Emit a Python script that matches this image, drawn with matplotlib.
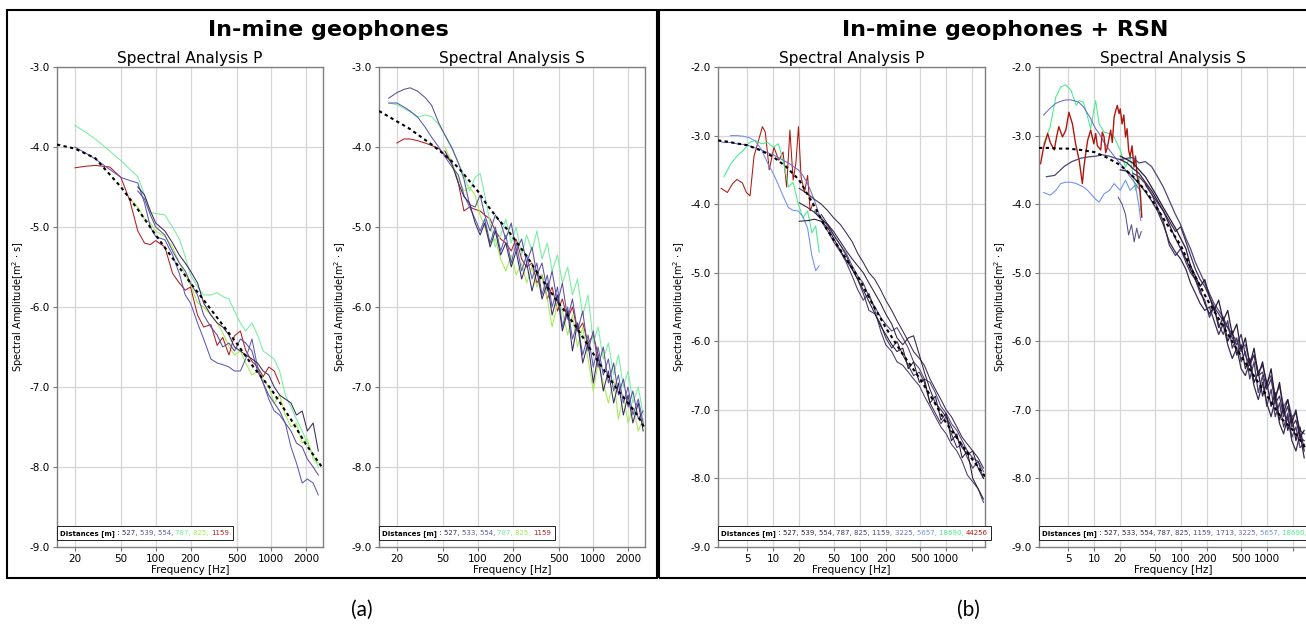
import numpy as np
import matplotlib
matplotlib.use('Agg')
import matplotlib.pyplot as plt
from matplotlib.ticker import NullLocator, FormatStrFormatter
from matplotlib.offsetbox import TextArea, HPacker, AnchoredOffsetbox
from matplotlib.patches import Rectangle

nan = np.nan

# ---------------- (a) In-mine geophones, P ----------------
A_P_FREQ = [20, 25, 30, 40, 50, 60, 70, 80, 90, 100, 120, 140, 160, 180, 200, 230, 260, 300, 340,
            380, 430, 480, 540, 600, 680, 760, 850, 950, 1060, 1180, 1320, 1480, 1650, 1850, 2050, 2300, 2550]
A_P_527 = [nan] * 6 + [-4.5, -4.6, -4.8, -4.95, -5.05, -5.2, -5.35, -5.45, -5.55, -5.7, -5.95, -6.1, -6.2,
                       -6.25, -6.35, -6.5, -6.55, -6.6, -6.65, -6.7, -6.8, -6.85, -7.0, -7.1, -7.15, -7.2,
                       -7.35, -7.3, -7.55, -7.45, -7.8]
A_P_539 = [nan] * 6 + [-4.55, -4.65, -4.85, -5.0, -5.1, -5.3, -5.45, -5.55, -5.7, -5.85, -6.1, -6.25, -6.35,
                       -6.5, -6.45, -6.55, -6.4, -6.45, -6.55, -6.8, -6.95, -7.1, -7.2, -7.3, -7.45, -7.55,
                       -7.7, -7.75, -7.9, -8.0, -8.1]
A_P_554 = [-4.0, -4.08, -4.15, -4.28, -4.38, -4.42, -4.45, -4.7, -5.0, -5.12, -5.16, -5.35, -5.58, -5.85,
           -5.95, -6.2, -6.4, -6.65, -6.7, -6.72, -6.75, -6.8, -6.8, -6.65, -6.4, -6.75, -6.95, -7.15,
           -7.3, -7.35, -7.45, -7.75, -7.95, -8.2, -8.15, -8.2, -8.35]
A_P_787 = [-3.73, -3.82, -3.9, -4.05, -4.17, -4.28, -4.37, -4.6, -4.82, -4.83, -4.85, -5.0, -5.15, -5.37,
           -5.6, -5.75, -5.85, -5.85, -5.82, -5.87, -5.9, -6.05, -6.2, -6.3, -6.2, -6.35, -6.55, -6.6,
           -6.65, -6.8, -7.1, -7.25, -7.4, -7.55, -7.7, -7.85, -8.0]
A_P_825 = [nan] * 5 + [-4.65, -4.75, -4.9, -4.95, -5.05, -5.12, -5.25, -5.45, -5.6, -5.72, -5.95, -6.0,
                       -6.1, -6.2, -6.32, -6.5, -6.6, -6.55, -6.7, -6.85, -6.8, -6.9, -7.0, -7.2, -7.1,
                       -7.35, -7.5, -7.45, -7.7, -7.65, -7.9, -7.95]
A_P_1159 = [-4.26, -4.24, -4.23, -4.25, -4.38, -4.68, -5.05, -5.2, -5.22, -5.17, -5.25, -5.58, -5.7, -5.79,
            -5.75, -6.1, -6.25, -6.22, -6.48, -6.38, -6.6, -6.36, -6.3, -6.54, -6.68, -6.75, -6.87,
            -6.75, -6.8, -6.96] + [nan] * 7
A_P_FIT_FREQ = [14, 20, 30, 50, 70, 100, 150, 200, 300, 500, 700, 1000, 1500, 2000, 2800]
A_P_FIT = [-3.97, -4.02, -4.14, -4.5, -4.78, -5.1, -5.45, -5.7, -6.03, -6.45, -6.75, -7.03, -7.42, -7.72, -8.02]

# ---------------- (a) In-mine geophones, S ----------------
A_S_FREQ = [17, 20, 23, 26, 30, 35, 40, 46, 52, 60, 68, 76, 85, 95, 105, 115, 128, 142, 158, 175, 195,
            215, 240, 265, 295, 325, 360, 400, 440, 490, 540, 600, 660, 730, 810, 900, 1000, 1100,
            1220, 1350, 1500, 1650, 1820, 2000, 2200, 2450, 2700]
A_S_533 = [-3.39, -3.32, -3.28, -3.26, -3.3, -3.38, -3.48, -3.7, -3.85, -4.02, -4.2, -4.4, -4.72, -4.75,
           -4.6, -4.85, -5.05, -4.85, -4.95, -5.15, -4.95, -5.3, -5.15, -5.45, -5.25, -5.6, -5.45, -5.8,
           -5.55, -5.95, -5.7, -6.15, -5.9, -6.3, -6.05, -6.55, -6.3, -6.75, -6.5, -6.95, -6.7, -7.1,
           -6.9, -7.25, -7.05, -7.4, -7.3]
A_S_554 = [-3.45, -3.45, -3.5, -3.55, -3.62, -3.75, -3.88, -4.0, -4.12, -4.25, -4.35, -4.6, -4.75, -4.9,
           -5.05, -4.9, -5.2, -5.0, -5.3, -5.1, -5.45, -5.2, -5.55, -5.35, -5.65, -5.45, -5.85, -5.6,
           -6.0, -5.75, -6.25, -6.0, -6.4, -6.2, -6.6, -6.35, -6.75, -6.5, -6.85, -6.65, -7.05, -6.85,
           -7.2, -7.0, -7.35, -7.15, -7.45]
A_S_787 = [-3.45, -3.47, -3.52, -3.56, -3.63, -3.6, -3.62, -3.72, -3.85, -4.0, -4.2, -4.35, -4.55, -4.38,
           -4.33, -4.6, -4.95, -5.25, -5.1, -4.9, -5.2, -5.0, -5.35, -5.1, -5.3, -5.05, -5.4, -5.2,
           -5.55, -5.35, -5.7, -5.5, -5.85, -5.65, -6.1, -5.85, -6.45, -6.25, -6.65, -6.45, -6.85,
           -6.6, -7.0, -6.8, -7.2, -7.0, -7.35]
A_S_825 = [nan] * 8 + [-4.0, -4.2, -4.4, -4.55, -4.5, -4.6, -4.85, -5.0, -5.2, -5.15, -5.4, -5.55, -5.35,
                       -5.6, -5.45, -5.7, -5.5, -5.75, -5.6, -5.9, -6.25, -5.95, -6.05, -6.35, -6.1,
                       -6.5, -6.25, -6.65, -7.05, -6.7, -6.95, -7.2, -6.9, -7.4, -7.1, -7.45, -7.25,
                       -7.55, -7.4]
A_S_527 = [nan] * 8 + [-4.05, -4.22, -4.45, -4.62, -4.7, -4.95, -5.1, -4.95, -5.25, -5.05, -5.35, -5.2,
                       -5.5, -5.3, -5.65, -5.45, -5.8, -5.55, -5.9, -5.7, -6.1, -5.85, -6.3, -6.05,
                       -6.55, -6.2, -6.7, -6.45, -6.95, -6.6, -7.05, -6.8, -7.2, -6.95, -7.35, -7.1,
                       -7.45, -7.2, -7.55]
A_S_1159 = [nan, -3.95, -3.9, -3.9, -3.92, -3.95, -3.98, -4.02, -4.1, -4.2, -4.45, -4.8, -4.75, -4.78,
            -4.8, -4.85, -4.9, -5.05, -5.15, -5.2, -5.3, -5.15, -5.4, -5.5, -5.45, -5.7, -5.6, -5.9,
            -5.75, -6.05, -5.9, -6.15, -6.0, -6.3, -6.2, -6.45, -6.35, -6.6] + [nan] * 9
A_S_FIT_FREQ = [14, 17, 20, 25, 30, 40, 50, 60, 70, 80, 100, 120, 150, 180, 220, 270, 330, 400, 500, 600,
                750, 900, 1100, 1350, 1650, 2000, 2400, 2800]
A_S_FIT = [-3.55, -3.62, -3.68, -3.76, -3.84, -3.97, -4.08, -4.18, -4.28, -4.38, -4.55, -4.72, -4.9, -5.03,
           -5.2, -5.38, -5.58, -5.75, -5.95, -6.1, -6.3, -6.48, -6.68, -6.87, -7.05, -7.2, -7.35, -7.52]

# ---------------- (b) In-mine geophones + RSN, P ----------------
B_P_LOW_FREQ = [2.3, 2.7, 3.2, 3.8, 4.5, 5.3, 6.2, 7.3, 8.6, 10, 11.5, 13, 15, 17, 19.5, 22, 25, 28, 31, 34]
B_P_3225 = [-3.08, -3.1, -3.1, -3.12, -3.13, -3.15, -3.18, -3.21, -3.25, -3.28, -3.32, -3.36, -3.4, -3.45,
            -3.5, -3.58, -3.7, -3.85, -4.0, -4.15]
B_P_5657 = [nan, nan, -3.0, -3.0, -3.01, -3.03, -3.08, -3.2, -3.4, -3.55, -3.72, -3.88, -4.05, -4.09, -4.1,
            -4.18, -4.35, -4.75, -4.97, -4.9]
B_P_18690 = [nan, -3.6, -3.42, -3.3, -3.22, -3.1, -3.07, -3.12, -3.1, -3.17, -3.12, -3.36, -3.75, -3.68,
             -4.0, -4.2, -4.1, -4.42, -4.32, -4.7]
B_P_RED_FREQ = [2.5, 2.95, 3.4, 3.8, 4.4, 4.9, 5.4, 6.0, 6.6, 7.5, 8.1, 9.0, 10.2, 11.6, 13.0, 14.3, 15.6,
                17.0, 18.3, 19.6, 21, 23, 25, 26.7, 28.6]
B_P_44256 = [-3.77, -3.83, -3.7, -3.64, -3.69, -3.83, -3.88, -3.3, -3.12, -2.87, -2.95, -3.5, -3.17, -3.36,
             -3.24, -3.75, -2.92, -3.65, -3.4, -2.87, -3.6, -3.83, -3.58, -4.1, -4.0]
B_P_FREQ = [20, 25, 30, 36, 43, 50, 60, 70, 82, 95, 110, 128, 150, 175, 200, 235, 270, 315, 365, 420, 490,
            560, 650, 750, 870, 1000, 1150, 1330, 1530, 1760, 2030, 2340, 2700]
B_P_527 = [-4.25, -4.24, -4.22, -4.25, -4.35, -4.5, -4.68, -4.82, -4.95, -5.1, -5.25, -5.42, -5.6, -5.78,
           -5.9, -6.05, -6.15, -6.1, -6.4, -6.3, -6.6, -6.55, -6.9, -6.8, -7.15, -7.05, -7.45, -7.35,
           -7.7, -7.6, -8.0, -8.15, -8.3]
B_P_539 = [-3.98, -4.05, -4.12, -4.22, -4.3, -4.4, -4.55, -4.68, -4.8, -4.9, -5.0, -5.15, -5.3, -5.45,
           -5.6, -5.75, -5.95, -6.05, -5.95, -5.92, -6.2, -6.45, -6.7, -6.9, -7.0, -7.1, -7.25, -7.4,
           -7.55, -7.65, -7.6, -7.85, -8.0]
B_P_554 = [-3.77, -3.85, -3.93, -4.0, -4.1, -4.2, -4.3, -4.42, -4.55, -4.72, -4.85, -5.0, -5.1, -5.25,
           -5.4, -5.55, -5.7, -5.85, -6.0, -6.15, -6.25, -6.35, -6.55, -6.7, -6.85, -7.0, -7.1, -7.25,
           -7.4, -7.5, -7.6, -7.7, -7.85]
B_P_787 = [nan, nan, nan, -4.15, -4.3, -4.45, -4.6, -4.75, -4.95, -5.1, -5.3, -5.55, -5.6, -5.75, -5.95,
           -6.1, -6.0, -6.2, -6.35, -6.5, -6.45, -6.6, -6.9, -7.05, -7.2, -7.1, -7.35, -7.55, -7.5, -7.7,
           -7.85, -7.75, -8.0]
B_P_825 = [nan, nan, nan, -4.25, -4.4, -4.55, -4.7, -4.85, -5.05, -5.25, -5.4, -5.3, -5.55, -5.85, -6.05,
           -6.15, -6.3, -6.35, -6.45, -6.55, -6.65, -6.8, -6.95, -7.1, -7.25, -7.35, -7.5, -7.6, -7.75,
           -7.95, -8.05, -8.15, -8.35]
B_P_1159 = [nan, nan, -4.1, -4.2, -4.32, -4.45, -4.6, -4.72, -4.9, -5.05, -5.15, -5.35, -5.5, -5.65, -5.75,
            -5.85, -5.8, -5.95, -6.1, -6.3, -6.4, -6.55, -6.6, -6.75, -6.95, -7.05, -7.2, -7.3, -7.45,
            -7.6, -7.7, -7.75, -7.9]
B_P_FIT_FREQ = [2.3, 3, 4, 5, 7, 10, 14, 20, 30, 40, 50, 70, 100, 140, 200, 300, 500, 700, 1000, 1500, 2000, 2850]
B_P_FIT = [-3.07, -3.09, -3.12, -3.14, -3.21, -3.31, -3.45, -3.65, -4.03, -4.33, -4.52, -4.8, -5.1, -5.45,
           -5.8, -6.15, -6.55, -6.85, -7.19, -7.5, -7.72, -7.98]

# ---------------- (b) In-mine geophones + RSN, S ----------------
B_S_LOW_FREQ = [2.6, 3.1, 3.6, 4.1, 4.7, 5.4, 6.2, 6.7, 7.5, 8.4, 9.1, 9.9, 10.4, 11.4, 13, 15, 17, 20, 23,
                26, 30, 33, 34.5]
B_S_18690 = [-3.12, -2.87, -2.44, -2.29, -2.26, -2.34, -2.56, -2.49, -2.51, -2.73, -2.9, -2.63, -2.49,
             -2.83, -2.95, -2.97, -3.02, -3.21, -3.46, -3.31, -3.8, -3.6, -4.09]
B_S_3225 = [-2.7, -2.6, -2.53, -2.5, -2.48, -2.48, -2.5, -2.52, -2.58, -2.68, -2.75, -2.85, -2.9, -2.97,
            -3.1, -3.21, -3.3, -3.41, -3.5, -3.6, -3.7, -3.78, -3.82]
B_S_5657 = [-3.83, -3.87, -3.8, -3.7, -3.68, -3.68, -3.7, -3.72, -3.75, -3.8, -3.85, -3.9, -3.93, -3.97,
            -3.85, -3.8, -3.7, -3.8, -3.65, -3.8, -3.72, -4.04, -4.24]
B_S_RED_FREQ = [2.4, 2.6, 2.9, 3.1, 3.45, 3.7, 3.9, 4.3, 4.7, 5.1, 5.6, 6.1, 6.7, 7.3, 7.6, 8.0, 8.4, 9.1,
                9.9, 10.4, 10.9, 11.9, 12.4, 13.0, 13.6, 14.2, 15.5, 16.2, 17.0, 17.8, 18.5, 19.4, 20.0,
                21.0, 22.0, 23.0, 24.0, 25.0, 26.0, 27.4, 28.8, 30.0, 31.5, 33.0, 34.4, 35.5]
B_S_44256 = [-3.41, -3.17, -2.97, -3.1, -3.21, -3.0, -2.87, -3.02, -2.92, -2.66, -2.83, -3.12, -3.36, -3.7,
             -3.46, -3.25, -3.07, -2.92, -3.12, -2.97, -3.15, -3.21, -2.95, -3.02, -3.25, -3.17, -2.92,
             -3.1, -2.73, -2.63, -2.56, -2.68, -2.61, -2.83, -2.7, -3.02, -2.9, -3.21, -3.31, -3.15,
             -3.46, -3.3, -3.6, -3.7, -3.9, -4.19]
B_S_FREQ = [20, 24, 28, 33, 39, 46, 54, 63, 74, 87, 100, 115, 130, 148, 168, 190, 215, 243, 275, 310, 350,
            395, 445, 500, 560, 630, 705, 790, 885, 990, 1110, 1240, 1390, 1550, 1730, 1930, 2150, 2400, 2680]
B_S_527 = [-3.3, -3.35, -3.4, -3.5, -3.6, -3.75, -3.9, -4.05, -4.2, -4.35, -4.5, -4.65, -4.9, -5.05, -5.2,
           -5.1, -5.35, -5.55, -5.4, -5.7, -5.55, -5.9, -5.75, -6.15, -5.95, -6.35, -6.1, -6.5, -6.3,
           -6.65, -6.4, -6.85, -6.6, -7.05, -6.85, -7.2, -7.0, -7.4, -7.3]
B_S_533 = [-3.35, -3.4, -3.48, -3.55, -3.68, -3.8, -3.95, -4.1, -4.3, -4.5, -4.65, -4.8, -4.95, -5.1,
           -5.25, -5.45, -5.6, -5.5, -5.8, -5.65, -6.0, -5.85, -6.2, -6.05, -6.4, -6.25, -6.6, -6.45,
           -6.8, -6.6, -6.95, -6.75, -7.15, -6.95, -7.3, -7.1, -7.45, -7.25, -7.6]
B_S_554 = [-3.5, -3.52, -3.6, -3.7, -3.82, -3.95, -4.1, -4.3, -4.55, -4.7, -4.8, -4.95, -5.15, -5.3, -5.45,
           -5.55, -5.5, -5.7, -5.9, -5.75, -6.05, -6.25, -6.1, -6.4, -6.5, -6.3, -6.65, -6.85, -6.6,
           -6.9, -7.1, -6.85, -7.2, -7.35, -7.1, -7.45, -7.6, -7.35, -7.7]
B_S_787 = [nan, nan, nan, nan, -3.72, -3.85, -3.98, -4.1, -4.25, -4.4, -4.33, -4.55, -4.75, -4.95, -5.1,
           -5.2, -5.35, -5.5, -5.6, -5.7, -5.8, -5.95, -6.05, -5.9, -6.2, -6.35, -6.2, -6.5, -6.45, -6.7,
           -6.55, -6.9, -6.8, -7.1, -6.95, -7.25, -7.15, -7.4, -7.45]
B_S_825 = [nan, nan, -3.55, -3.6, -3.7, -3.85, -4.05, -4.25, -4.6, -4.75, -4.65, -4.85, -5.0, -5.1, -5.3,
           -5.4, -5.65, -5.5, -5.75, -5.9, -5.7, -6.1, -5.95, -6.3, -6.15, -6.55, -6.3, -6.75, -6.5,
           -6.95, -6.7, -7.1, -6.9, -7.25, -7.05, -7.4, -7.25, -7.55, -7.5]
B_S_1159_LOW_FREQ = [2.8, 3.5, 4.5, 5.5, 7, 8.7, 10.5, 12.5, 15, 17.5]
B_S_1159_LOW = [-3.6, -3.58, -3.45, -3.38, -3.33, -3.31, -3.3, -3.28, -3.3, -3.33]
B_S_1159 = [-3.35, -3.33, -3.32, -3.4, -3.38, -3.45, -3.6, -3.75, -3.95, -4.15, -4.3, -4.5, -4.65, -4.85,
            -5.0, -5.15, -5.3, -5.45, -5.55, -5.65, -5.8, -5.9, -6.0, -6.1, -6.05, -6.3, -6.2, -6.45,
            -6.35, -6.6, -6.5, -6.8, -6.65, -6.95, -6.85, -7.1, -7.05, -7.3, -7.35]
B_S_1713_FREQ = [19, 21, 23, 25, 27, 29, 31, 33, 35]
B_S_1713 = [-3.9, -4.0, -4.15, -4.45, -4.3, -4.55, -4.35, -4.5, -4.4]
B_S_FIT_FREQ = [2.3, 3, 4, 5, 7, 10, 14, 20, 30, 40, 50, 70, 100, 140, 200, 300, 500, 700, 1000, 1500, 2000, 2800]
B_S_FIT = [-3.18, -3.18, -3.19, -3.19, -3.21, -3.24, -3.32, -3.43, -3.63, -3.82, -4.0, -4.3, -4.6, -5.0,
           -5.38, -5.75, -6.22, -6.5, -6.8, -7.14, -7.3, -7.56]

# legend distances
A_P_DIST = ['527', '539', '554', '787', '825', '1159']
A_S_DIST = ['527', '533', '554', '787', '825', '1159']
B_P_DIST = ['527', '539', '554', '787', '825', '1159', '3225', '5657', '18690', '44256']
B_S_DIST = ['527', '533', '554', '787', '825', '1159', '1713', '3225', '5657', '18690', '44256']

A_COL = ['#3a2b5e', '#5b4f98', '#5a5ab6', '#74ee9e', '#a2ec4e', '#b01e1e']
B_COL = {'527': '#2a1838', '533': '#311f43', '539': '#311f43', '554': '#392a50', '787': '#40315c',
         '825': '#483b68', '1159': '#504676', '1713': '#5a4f88', '3225': '#6a6acc', '5657': '#6e8ef0',
         '18690': '#46ec8a', '44256': '#b0180e'}

plt.rcParams['font.family'] = ['DejaVu Sans']
fig = plt.figure(figsize=(13.06, 6.25), dpi=100)

W, H = 1306.0, 625.0


def make_axes(left_px, right_px):
    return fig.add_axes([left_px / W, 1 - 547 / H, (right_px - left_px) / W, (547 - 67) / H])


def style(ax, title, xlim, ylim, xticks, xlabels):
    ax.set_xscale('log')
    ax.set_xlim(xlim)
    ax.set_ylim(ylim)
    ax.set_xticks(xticks)
    ax.set_xticklabels(xlabels)
    ax.xaxis.set_minor_locator(NullLocator())
    ax.set_yticks(np.arange(ylim[0], ylim[1] + 0.01, 1.0))
    ax.yaxis.set_major_formatter(FormatStrFormatter('%.1f'))
    ax.grid(True, color='#d6d6d6', lw=0.9)
    ax.set_axisbelow(True)
    ax.tick_params(labelsize=7.5, length=3, color='#777777', pad=2)
    for s in ax.spines.values():
        s.set_color('#808080')
        s.set_linewidth(1.0)
    ax.set_title(title, fontsize=11, pad=3)
    ax.set_xlabel('Frequency [Hz]', fontsize=7.5, labelpad=1)
    ax.set_ylabel('Spectral Amplitude[m$^2$ $\\cdot$ s]', fontsize=7, labelpad=3)


def legend(ax, labels, colors):
    fs = 5.0
    parts = [TextArea('Distances [m]', textprops=dict(fontsize=fs, fontweight='bold')),
             TextArea(' : ', textprops=dict(fontsize=fs))]
    for i, (lab, c) in enumerate(zip(labels, colors)):
        sep = ', ' if i < len(labels) - 1 else ''
        parts.append(TextArea(lab + sep, textprops=dict(fontsize=fs, color=c)))
    box = HPacker(children=parts, align='baseline', pad=0, sep=0)
    anc = AnchoredOffsetbox(loc='lower left', child=box, pad=0.25, borderpad=0, frameon=True,
                            bbox_to_anchor=(0, 0.014), bbox_transform=ax.transAxes)
    anc.patch.set_edgecolor('#222222')
    anc.patch.set_linewidth(0.7)
    ax.add_artist(anc)


LW = 0.75
DASH = dict(color='black', lw=1.5, ls=(0, (1.6, 1.6)), zorder=5)

# ----- panel a, P -----
ax = make_axes(57, 323)
for vals, c in [(A_P_787, A_COL[3]), (A_P_825, A_COL[4]), (A_P_1159, A_COL[5]), (A_P_554, A_COL[2]),
                (A_P_539, A_COL[1]), (A_P_527, A_COL[0])]:
    ax.plot(A_P_FREQ, vals, color=c, lw=LW)
ax.plot(A_P_FIT_FREQ, A_P_FIT, **DASH)
style(ax, 'Spectral Analysis P', (14, 2800), (-9, -3), [20, 50, 100, 200, 500, 1000, 2000],
      ['20', '50', '100', '200', '500', '1000', '2000'])
legend(ax, A_P_DIST, A_COL)

# ----- panel a, S -----
ax = make_axes(379, 645)
for vals, c in [(A_S_1159, A_COL[5]), (A_S_787, A_COL[3]), (A_S_825, A_COL[4]), (A_S_554, A_COL[2]),
                (A_S_533, A_COL[1]), (A_S_527, A_COL[0])]:
    ax.plot(A_S_FREQ, vals, color=c, lw=LW)
ax.plot(A_S_FIT_FREQ, A_S_FIT, **DASH)
style(ax, 'Spectral Analysis S', (14, 2800), (-9, -3), [20, 50, 100, 200, 500, 1000, 2000],
      ['20', '50', '100', '200', '500', '1000', '2000'])
legend(ax, A_S_DIST, A_COL)

B_TICKS = [5, 10, 20, 50, 100, 200, 500, 1000, 2000]
B_TLAB = ['5', '10', '20', '50', '100', '200', '500', '1000', '']

# ----- panel b, P -----
ax = make_axes(718, 985.5)
ax.plot(B_P_RED_FREQ, B_P_44256, color=B_COL['44256'], lw=LW)
ax.plot(B_P_LOW_FREQ, B_P_18690, color=B_COL['18690'], lw=LW)
ax.plot(B_P_LOW_FREQ, B_P_5657, color=B_COL['5657'], lw=LW)
ax.plot(B_P_LOW_FREQ, B_P_3225, color=B_COL['3225'], lw=LW)
for vals, k in [(B_P_1159, '1159'), (B_P_825, '825'), (B_P_787, '787'), (B_P_554, '554'),
                (B_P_539, '539'), (B_P_527, '527')]:
    ax.plot(B_P_FREQ, vals, color=B_COL[k], lw=LW)
ax.plot(B_P_FIT_FREQ, B_P_FIT, **DASH)
style(ax, 'Spectral Analysis P', (2.3, 2850), (-9, -2), B_TICKS, B_TLAB)
legend(ax, B_P_DIST, [B_COL[d] for d in B_P_DIST])

# ----- panel b, S -----
ax = make_axes(1039, 1306.5)
ax.plot(B_S_LOW_FREQ, B_S_18690, color=B_COL['18690'], lw=LW)
ax.plot(B_S_LOW_FREQ, B_S_3225, color=B_COL['3225'], lw=LW)
ax.plot(B_S_LOW_FREQ, B_S_5657, color=B_COL['5657'], lw=LW)
ax.plot(B_S_RED_FREQ, B_S_44256, color=B_COL['44256'], lw=1.0)
ax.plot(B_S_1713_FREQ, B_S_1713, color=B_COL['1713'], lw=LW)
ax.plot(B_S_1159_LOW_FREQ + B_S_FREQ, B_S_1159_LOW + B_S_1159, color=B_COL['1159'], lw=0.9)
for vals, k in [(B_S_825, '825'), (B_S_787, '787'), (B_S_554, '554'), (B_S_533, '533'), (B_S_527, '527')]:
    ax.plot(B_S_FREQ, vals, color=B_COL[k], lw=0.9)
ax.plot(B_S_FIT_FREQ, B_S_FIT, **DASH)
style(ax, 'Spectral Analysis S', (2.3, 2850), (-9, -2), B_TICKS, B_TLAB)
legend(ax, B_S_DIST, [B_COL[d] for d in B_S_DIST])

# group frames, headings and panel letters
fig.add_artist(Rectangle((7 / W, 1 - 578 / H), 650 / W, 568 / H, transform=fig.transFigure,
                         fill=False, ec='black', lw=1.5))
fig.add_artist(Rectangle((659 / W, 1 - 578 / H), 660 / W, 568 / H, transform=fig.transFigure,
                         fill=False, ec='black', lw=1.5))
fig.text(328 / W, 1 - 30 / H, 'In-mine geophones', ha='center', va='center', fontsize=16, fontweight='bold')
fig.text(1005 / W, 1 - 30 / H, 'In-mine geophones + RSN', ha='center', va='center', fontsize=16,
         fontweight='bold')
fig.text(362 / W, 1 - 610 / H, '(a)', ha='center', va='center', fontsize=15, family=['Lato', 'DejaVu Sans'])
fig.text(968 / W, 1 - 610 / H, '(b)', ha='center', va='center', fontsize=15, family=['Lato', 'DejaVu Sans'])

fig.savefig('out.png', dpi=100)
